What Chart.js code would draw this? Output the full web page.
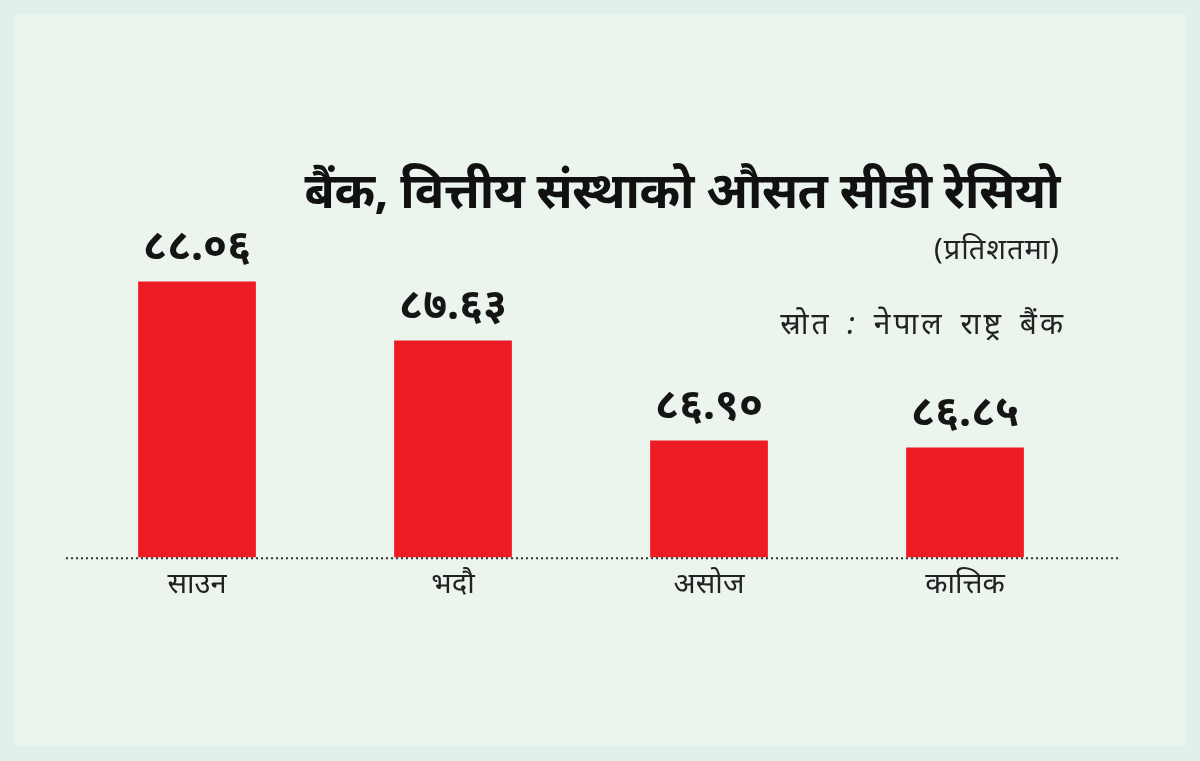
<!DOCTYPE html>
<html>
<head>
<meta charset="utf-8">
<script src="https://cdn.jsdelivr.net/npm/chart.js@4"></script>
<style>
  html, body { margin: 0; padding: 0; }
  body { width: 1200px; height: 761px; background: #e1f0ec; position: relative; overflow: hidden;
         font-family: "Noto Sans", sans-serif; }
  #panel { position: absolute; left: 15px; top: 14px; width: 1171px; height: 732px; background: #ebf5ee; }
  #title { position: absolute; right: 140px; top: 156px; font-size: 49px; font-weight: 700; color: #111;
           letter-spacing: -0.5px; white-space: nowrap; }
  #unit { position: absolute; right: 140px; top: 228px; font-size: 29px; color: #222; letter-spacing: 1px; }
  #source { position: absolute; right: 134px; top: 302px; font-size: 30px; font-style: italic; color: #222;
            letter-spacing: 3px; word-spacing: 5px; }
  #wrap { position: absolute; left: 0; top: 0; width: 1200px; height: 761px; }
</style>
</head>
<body>
<div id="panel"></div>
<div id="wrap"><canvas id="barPlot" width="1200" height="761"></canvas></div>
<div id="title">बैंक, वित्तीय संस्थाको औसत सीडी रेसियो</div>
<div id="unit">(प्रतिशतमा)</div>
<div id="source">स्रोत : नेपाल राष्ट्र बैंक</div>
<script>
// months (Nepali calendar)
var months = ['साउन', 'भदौ', 'असोज', 'कात्तिक'];
// average CD ratio, percent
var cdRatio = [88.06, 87.63, 86.90, 86.85];

var nepaliDigits = ['०', '१', '२', '३', '४', '५', '६', '७', '८', '९'];
function toNepali(v) {
    return v.toFixed(2).replace(/[0-9]/g, function (d) { return nepaliDigits[+d]; });
}

// value labels on top of bars + dotted base line
var barExtras = {
    id: 'barExtras',
    afterDatasetsDraw: function (chart) {
        var ctx = chart.ctx;
        var area = chart.chartArea;
        ctx.save();
        ctx.strokeStyle = '#333';
        ctx.lineWidth = 2;
        ctx.setLineDash([2, 3]);
        ctx.beginPath();
        ctx.moveTo(area.left - 3, area.bottom + 1);
        ctx.lineTo(area.right + 26, area.bottom + 1);
        ctx.stroke();
        ctx.setLineDash([]);

        ctx.fillStyle = '#151515';
        ctx.font = 'bold 43px "Noto Sans", sans-serif';
        ctx.textAlign = 'center';
        ctx.textBaseline = 'bottom';
        chart.getDatasetMeta(0).data.forEach(function (bar, i) {
            ctx.fillText(toNepali(cdRatio[i]), bar.x, bar.y - 12);
        });
        ctx.restore();
    }
};

function setupChart() {
    var ctx = document.getElementById('barPlot').getContext('2d');
    new Chart(ctx, {
        type: 'bar',
        data: {
            labels: months,
            datasets: [{
                data: cdRatio,
                backgroundColor: '#ed1c24',
                barPercentage: 0.46,
                categoryPercentage: 1
            }]
        },
        plugins: [barExtras],
        options: {
            responsive: false,
            animation: false,
            layout: { padding: { left: 69, right: 107, top: 221, bottom: 149 } },
            plugins: {
                legend: { display: false },
                tooltip: { enabled: false }
            },
            scales: {
                x: {
                    grid: { display: false, drawTicks: false },
                    border: { display: false },
                    ticks: {
                        color: '#222',
                        padding: 10,
                        font: { family: '"Noto Sans", sans-serif', size: 29 }
                    }
                },
                y: {
                    display: false,
                    min: 86.05,
                    max: 88.5
                }
            }
        }
    });
}

setupChart();
</script>
</body>
</html>
